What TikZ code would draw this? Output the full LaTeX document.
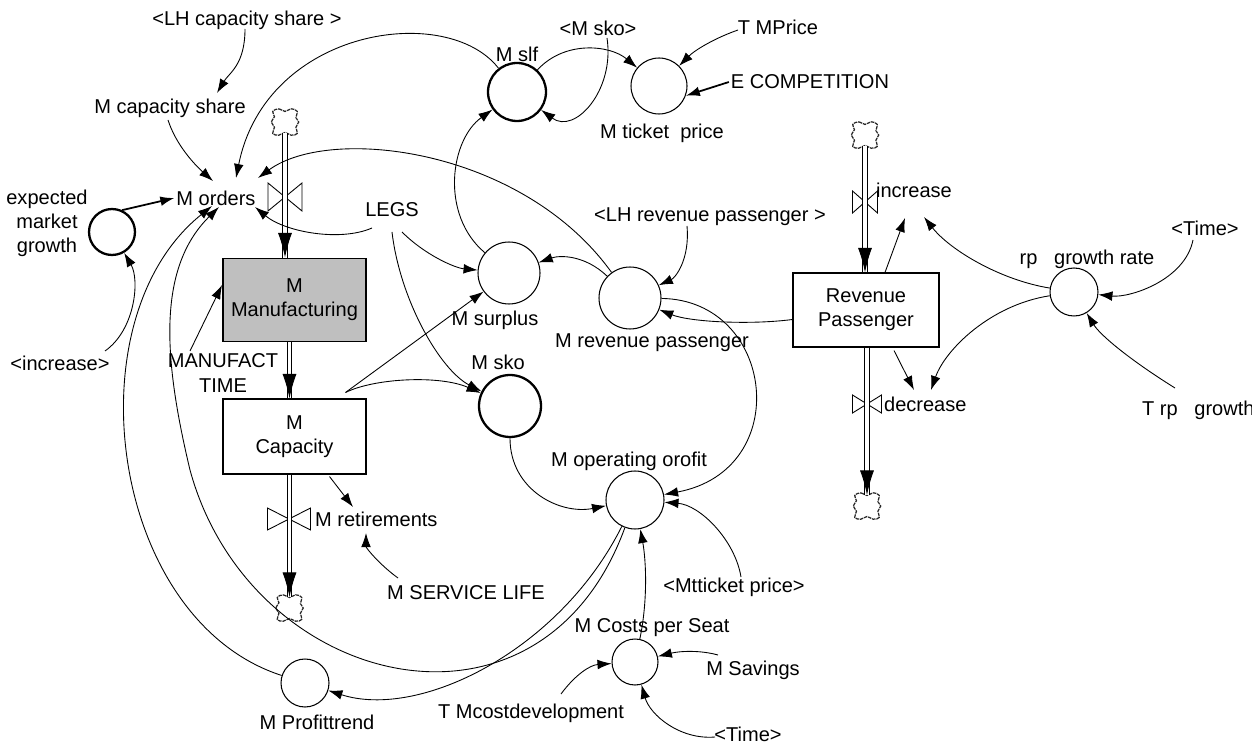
\documentclass[tikz,border=0pt]{standalone}
\usepackage{fontspec}
\setmainfont{Liberation Sans}
\usetikzlibrary{positioning,calc,arrows.meta}

\tikzset{
  every node/.style={font=\fontsize{11.4pt}{13.7pt}\selectfont, inner sep=1pt},
  aux/.style={circle, draw, line width=0.6pt, fill=white, inner sep=0pt},
  auxb/.style={aux, line width=1.3pt},
  level/.style={rectangle, draw, line width=0.6pt, fill=white, align=center,
    minimum width=2.86cm, minimum height=1.5cm},
  cloudy/.style={minimum width=0.64cm, minimum height=0.6cm, inner sep=0pt, outer sep=-2.3pt,
    path picture={
    \draw[shift={(path picture bounding box.center)}, x=1pt, y=1pt,
      draw=black!85, line width=0.7pt, dash pattern=on 2pt off 0.5pt]
      plot[smooth cycle, tension=0.7] coordinates {(-7,6) (-3.5,7.5) (0,6) (3.5,7.5) (7,6)
        (6.2,2.5) (7.8,0) (6.2,-3) (7,-6.5) (3.5,-7.5) (0,-6) (-3.5,-7.5) (-7,-6.5)
        (-6,-3) (-7.8,0) (-6,3)};}},
  valve/.style={inner sep=0pt, path picture={
    \draw[line width=0.5pt]
      ([shift={(0.3pt,0.3pt)}]path picture bounding box.south west) --
      ([shift={(-0.3pt,-0.3pt)}]path picture bounding box.north east) --
      ([shift={(-0.3pt,0.3pt)}]path picture bounding box.south east) --
      ([shift={(0.3pt,-0.3pt)}]path picture bounding box.north west) -- cycle;}},
  conn/.style={-{Latex[length=8pt,width=5.5pt]}, line width=0.5pt},
  pipe/.style={double, double distance=2.2pt, line width=0.45pt},
  flowtip/.style={-{Latex[length=14pt,width=8pt]}, line width=0.5pt}
}

\begin{document}
\begin{tikzpicture}[x=0.02cm, y=-0.02cm]
\useasboundingbox (0,0) rectangle (1252,743);

% stocks
\node[level, fill=black!25, line width=1.1pt, minimum height=1.66cm] (mmanuf) at (294.5,300) {M\\Manufacturing};
\node[level] (mcap) at (294.5,436.5) {M\\Capacity};
\node[level, minimum width=2.92cm, minimum height=1.48cm] (revpass) at (866,310) {Revenue\\Passenger};

% sources and sinks
\node[cloudy] (cloudA) at (285,122) {};
\node[cloudy] (cloudB) at (289.5,608) {};
\node[cloudy] (cloudC) at (865,135) {};
\node[cloudy] (cloudD) at (867,506) {};

% valves
\node[valve, minimum width=0.7cm, minimum height=0.58cm] (valveA) at (285,197) {};
\node[valve, minimum width=0.88cm, minimum height=0.46cm] (valveB) at (289,519) {};
\node[valve, minimum width=0.52cm, minimum height=0.46cm] (valveC) at (865,202) {};
\node[valve, minimum width=0.6cm, minimum height=0.38cm] (valveD) at (867,404) {};

\node[anchor=west] (mretire) at (313,519) {M retirements};
\node[anchor=west] (increase) at (874,190) {increase};
\node[anchor=west] (decrease) at (882,404) {decrease};

% variables
\node (morders) at (216,198) {M orders};
\node (mcapshare) at (170,108) {M capacity share};
\node (lhcapshare) at (247,20) {<LH capacity share >};
\node[auxb, minimum size=0.92cm] (emg) at (112,232) {};
\node[align=center] (emgl) at (47,223) {expected\\market\\growth};
\node (lincrease) at (60,363) {<increase>};
\node[align=center] (manufact) at (223,373) {MANUFACT\\TIME};
\node (mservice) at (466,593) {M SERVICE LIFE};
\node (legs) at (392,210) {LEGS};
\node[aux, minimum size=1.24cm] (msurplus) at (509,273) {};
\node (msurplusl) at (495,320) {M surplus};
\node[auxb, minimum size=1.24cm] (msko) at (510,406) {};
\node (mskol) at (498,362) {M sko};
\node[auxb, minimum size=1.16cm] (mslf) at (517,92) {};
\node (mslfl) at (517,54) {M slf};
\node (lmsko) at (598,28) {<M sko>};
\node[aux, minimum size=1.12cm] (mticket) at (659,86) {};
\node (mticketl) at (662,133) {M ticket~~price};
\node (tmprice) at (778,27) {T MPrice};
\node (ecomp) at (810,82) {E COMPETITION};
\node[aux, minimum size=1.24cm] (mrevpass) at (630,298) {};
\node (mrevpassl) at (652,343) {M revenue passenger};
\node (lhrevpass) at (710,217) {<LH revenue passenger >};
\node[aux, minimum size=0.96cm] (rpgrowth) at (1074,292) {};
\node (rpgrowthl) at (1087,259) {rp~~~growth rate};
\node (ltimea) at (1205,228) {<Time>};
\node[anchor=west] (trpgrowth) at (1140,410) {T rp~~~growth};
\node[aux, minimum size=1.16cm] (mopprofit) at (635,500) {};
\node (mopprofitl) at (629,461) {M operating orofit};
\node (lmtticket) at (734,587) {<Mtticket price>};
\node[aux, minimum size=0.92cm] (mcosts) at (635,662) {};
\node (mcostsl) at (652,628) {M Costs per Seat};
\node (msavings) at (753,670) {M Savings};
\node (ltimeb) at (748,734) {<Time>};
\node (tmcost) at (531,713) {T Mcostdevelopment};
\node[aux, minimum size=0.96cm] (mprofit) at (305,683) {};
\node (mprofitl) at (317,722) {M Profittrend};

% flows
\draw[pipe] (cloudA.south) -- (cloudA |- mmanuf.north);
\draw[flowtip] ($(cloudA |- mmanuf.north)+(0,-20)$) -- (cloudA |- mmanuf.north);
\draw[pipe] ($(mmanuf.south)+(-5,0)$) -- ($(mcap.north)+(-5,0)$);
\draw[flowtip] ($(mcap.north)+(-5,-20)$) -- ($(mcap.north)+(-5,0)$);
\draw[pipe] (cloudB |- mcap.south) -- (cloudB.north);
\draw[flowtip] ($(cloudB.north)+(0,-20)$) -- (cloudB.north);
\draw[pipe] (cloudC.south) -- (cloudC |- revpass.north);
\draw[flowtip] ($(cloudC |- revpass.north)+(0,-20)$) -- (cloudC |- revpass.north);
\draw[pipe] (cloudD |- revpass.south) -- (cloudD.north);
\draw[flowtip] ($(cloudD.north)+(0,-20)$) -- (cloudD.north);

% links
\draw[conn] ($(lhcapshare)+(-2,9)$) .. controls (245,65) and (229,73) .. ($(mcapshare)+(47,-15)$);
\draw[conn] ($(mcapshare)+(-2,12)$) .. controls (176,145) and (195,165) .. ($(morders)+(-3,-17)$);
\draw[conn] (mslf) .. controls (447,2) and (266,28) .. ($(morders)+(20,-20)$);
\draw[conn] (mrevpass) .. controls (522,148) and (330,125) .. ($(morders)+(42,-20)$);
\draw[conn] ($(legs)+(-20,18)$) .. controls (340,242) and (285,232) .. ($(morders)+(39,9)$);
\draw[conn, line width=1pt] (emg.65) -- (morders.west);
\draw[conn] ($(lincrease)+(45,-12)$) .. controls (135,330) and (140,280) .. (emg);
\draw[conn] ($(manufact)+(-33,-22)$) -- ($(mmanuf.west)+(0,-15)$);
\draw[conn] ($(mcap.south)+(35,2)$) -- ($(mretire.west)+(40,-12)$);
\draw[conn] ($(mservice)+(-68,-15)$) .. controls (380,565) and (366,548) .. ($(mretire.west)+(53,14)$);
\draw[conn] ($(legs)+(10,22)$) .. controls (425,255) and (455,268) .. (msurplus);
\draw[conn] ($(legs)+(0,22)$) .. controls (400,300) and (440,370) .. (msko);
\draw[conn] ($(mcap.north east)+(-21,-6)$) -- (msurplus);
\draw[conn] ($(mcap.north east)+(-21,-6)$) .. controls (375,378) and (440,375) .. (msko);
\draw[conn] (msurplus) .. controls (440,215) and (450,140) .. (mslf);
\draw[conn] (mrevpass) .. controls (585,255) and (560,255) .. (msurplus);
\draw[conn] ($(lhrevpass)+(-23,9)$) .. controls (690,260) and (675,278) .. (mrevpass);
\draw[conn] (revpass) .. controls (750,325) and (690,322) .. (mrevpass);
\draw[conn] (mrevpass) .. controls (775,300) and (795,470) .. (mopprofit);
\draw[conn] ($(lmtticket)+(7,-10)$) .. controls (735,540) and (700,505) .. (mopprofit);
\draw[conn] (msko) .. controls (510,490) and (560,515) .. (mopprofit);
\draw[conn] (mcosts) .. controls (648,600) and (646,560) .. (mopprofit);
\draw[conn] ($(msavings)+(-35,-15)$) .. controls (700,650) and (680,651) .. (mcosts);
\draw[conn] ($(ltimeb)+(-33,3)$) .. controls (680,740) and (650,715) .. (mcosts);
\draw[conn] ($(tmcost)+(30,-19)$) .. controls (575,675) and (590,665) .. (mcosts);
\draw[conn] (mopprofit) .. controls (560,650) and (420,720) .. (mprofit);
\draw[conn] (mopprofit) .. controls (540,760) and (250,690) .. (190,470)
  .. controls (165,365) and (155,270) .. ($(morders)+(3,9)$);
\draw[conn] (mprofit) .. controls (110,620) and (70,320) .. ($(morders)+(-4,8)$);
\draw[conn] (mslf) .. controls (565,40) and (610,45) .. (mticket);
\draw[conn] ($(lmsko)+(9,10)$) .. controls (615,90) and (575,135) .. (mslf);
\draw[conn] ($(tmprice)+(-40,3)$) .. controls (715,38) and (695,50) .. (mticket);
\draw[conn, line width=1pt] (ecomp.west) -- (mticket.-20);
\draw[conn] ($(revpass.north)+(19,0)$) -- ($(increase.west)+(31,28)$);
\draw[conn] (rpgrowth) .. controls (1000,280) and (950,250) .. ($(increase.west)+(50,27)$);
\draw[conn] ($(revpass.south)+(28,3)$) -- ($(decrease.west)+(32,-14)$);
\draw[conn] (rpgrowth) .. controls (990,305) and (945,350) .. ($(decrease.west)+(49,-14)$);
\draw[conn] ($(ltimea)+(-12,12)$) .. controls (1185,280) and (1130,298) .. (rpgrowth);
\draw[conn] ($(trpgrowth.west)+(35,-22)$) .. controls (1130,360) and (1100,335) .. (rpgrowth);
\end{tikzpicture}
\end{document}
